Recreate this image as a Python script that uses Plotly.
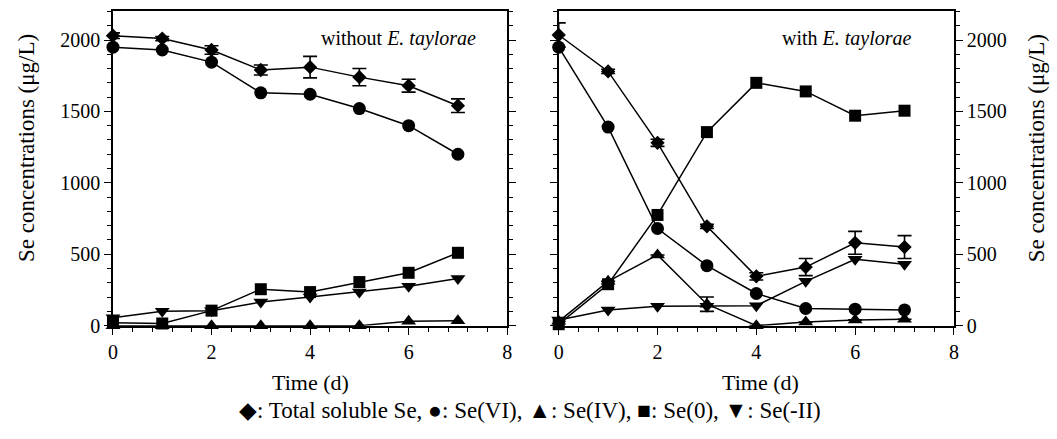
import plotly.graph_objects as go

# ---- data ----
days = [0, 1, 2, 3, 4, 5, 6, 7]

# without E. taylorae
total_wo = [2030, 2010, 1930, 1790, 1810, 1740, 1680, 1540]
total_wo_err = [20, 15, 30, 35, 75, 60, 45, 48]
se6_wo = [1950, 1930, 1845, 1630, 1620, 1520, 1400, 1200]
se4_wo = [0, 0, 0, 0, 0, 0, 30, 35]
se0_wo = [20, 15, 105, 255, 235, 305, 370, 510]
sem2_wo = [55, 100, 105, 165, 200, 235, 275, 330]

# with E. taylorae
total_w = [2035, 1780, 1280, 695, 345, 410, 580, 550]
total_w_err = [85, 15, 25, 15, 25, 60, 80, 80]
se6_w = [1950, 1390, 680, 420, 225, 120, 115, 110]
se4_w = [30, 310, 495, 150, 0, 25, 40, 45]
se4_w_err = [0, 0, 0, 50, 0, 0, 0, 0]
se0_w = [10, 290, 775, 1355, 1700, 1640, 1470, 1505]
sem2_w = [40, 110, 135, 135, 140, 310, 465, 430]

x_ticks = [0, 2, 4, 6, 8]
y_ticks = [0, 500, 1000, 1500, 2000]

FONT = "Liberation Serif"
W, H = 1057, 439

fig = go.Figure()

def add_series(xa, ya, y, symbol, size, err=None):
    kw = {}
    if err is not None:
        kw["error_y"] = dict(type="data", array=err, visible=True,
                             color="black", thickness=1.6, width=7)
    fig.add_trace(go.Scatter(
        x=days, y=y, xaxis=xa, yaxis=ya, mode="lines+markers",
        line=dict(color="black", width=1.5),
        marker=dict(symbol=symbol, size=size, color="black",
                    line=dict(width=0)),
        cliponaxis=False, showlegend=False, **kw))

# left panel
add_series("x", "y", sem2_wo, "triangle-down", 13)
add_series("x", "y", se4_wo, "triangle-up", 13)
add_series("x", "y", se0_wo, "square", 12)
add_series("x", "y", se6_wo, "circle", 13)
add_series("x", "y", total_wo, "diamond", 11, total_wo_err)

# right panel
add_series("x2", "y2", sem2_w, "triangle-down", 13)
add_series("x2", "y2", se4_w, "triangle-up", 13, se4_w_err)
add_series("x2", "y2", se0_w, "square", 12)
add_series("x2", "y2", se6_w, "circle", 13)
add_series("x2", "y2", total_w, "diamond", 11, total_w_err)

def px(x):
    return x / W

def py(y):
    return 1 - y / H

y_dom = [py(334), py(11)]
tickfont = dict(family=FONT, size=20, color="black")

xaxis_common = dict(
    range=[0, 8], tickvals=x_ticks, ticks="outside", ticklen=8, tickwidth=1.2,
    tickcolor="black", showline=True, linecolor="black", linewidth=1.5,
    mirror=True, showgrid=False, zeroline=False, tickfont=tickfont,
    minor=dict(dtick=0.4, ticks="outside", ticklen=5, tickcolor="black",
               tickwidth=1, showgrid=False),
)
yaxis_common = dict(
    range=[0, 2205], tickvals=y_ticks, ticks="outside", ticklen=7, tickwidth=1.2,
    tickcolor="black", showline=True, linecolor="black", linewidth=1.5,
    mirror="ticks", showgrid=False, zeroline=False, tickfont=tickfont,
    minor=dict(dtick=100, ticks="outside", ticklen=4, tickcolor="black",
               tickwidth=1, showgrid=False),
)

fig.update_layout(
    width=W, height=H,
    margin=dict(l=0, r=0, t=0, b=0),
    font=dict(family=FONT, size=20, color="black"),
    paper_bgcolor="white", plot_bgcolor="white",
    showlegend=False,
    xaxis=dict(domain=[px(109), px(507)], anchor="y", **xaxis_common),
    yaxis=dict(domain=y_dom, anchor="x", side="left", **yaxis_common),
    xaxis2=dict(domain=[px(559), px(958)], anchor="y2", **xaxis_common),
    yaxis2=dict(domain=y_dom, anchor="x2", side="right", **yaxis_common),
)

titlefont = dict(family=FONT, size=22, color="black")
ann = [
    dict(text="without <i>E. taylorae</i>", x=px(478), y=py(40),
         xanchor="right", yanchor="middle", font=dict(family=FONT, size=20, color="black")),
    dict(text="with <i>E. taylorae</i>", x=px(918), y=py(40),
         xanchor="right", yanchor="middle", font=dict(family=FONT, size=20, color="black")),
    dict(text="Time (d)", x=px(308), y=py(392), xanchor="center", yanchor="middle",
         font=titlefont),
    dict(text="Time (d)", x=px(763), y=py(392), xanchor="center", yanchor="middle",
         font=titlefont),
    dict(text="Se concentrations (μg/L)", x=px(21), y=py(152), textangle=-90,
         xanchor="center", yanchor="middle", font=dict(family=FONT, size=23, color="black")),
    dict(text="Se concentrations (μg/L)", x=px(1041), y=py(152), textangle=-90,
         xanchor="center", yanchor="middle", font=dict(family=FONT, size=23, color="black")),
    dict(text="◆: Total soluble Se, ●: Se(VI), ▲: Se(IV), ■: Se(0), ▼: Se(-II)",
         x=px(530), y=py(421), xanchor="center", yanchor="middle",
         font=dict(family=FONT, size=23, color="black")),
]
for a in ann:
    a.update(xref="paper", yref="paper", showarrow=False)
fig.update_layout(annotations=ann)

fig.write_html("out.html")
